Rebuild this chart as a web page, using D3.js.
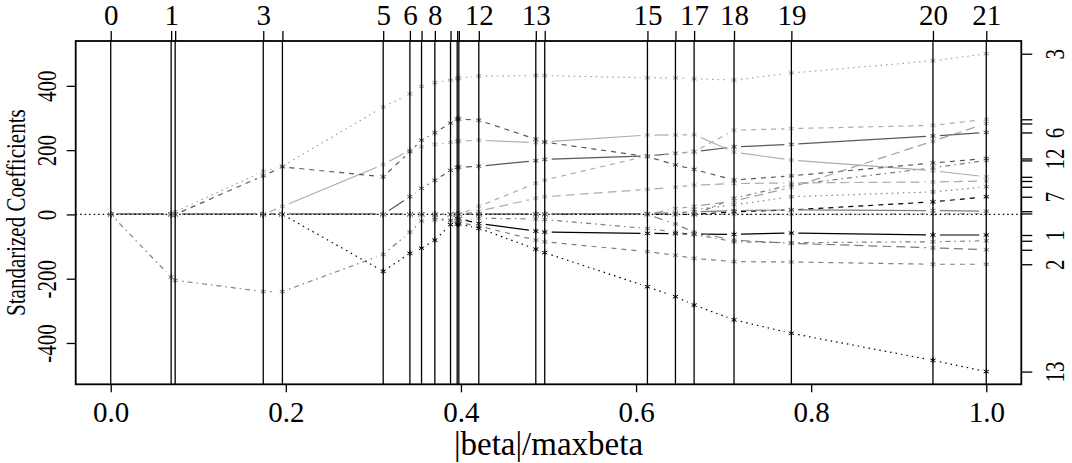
<!DOCTYPE html>
<html>
<head>
<meta charset="utf-8">
<script src="https://cdn.jsdelivr.net/npm/d3@7"></script>
<style>
  body { margin: 0; background: #fff; }
  text { font-family: "Liberation Serif", "DejaVu Serif", serif; }
</style>
</head>
<body>
<div id="chart"></div>
<script>
// step positions, |beta|/maxbeta at each lars step
var stepX = [0, 0.069, 0.0736, 0.1742, 0.1961, 0.3112, 0.3417, 0.3550, 0.3702, 0.3881, 0.3957,
             0.3976, 0.4204, 0.4855, 0.4957, 0.6130, 0.6450, 0.6663, 0.7119, 0.7774, 0.9391, 1.0];
var topLabelSteps = [0, 1, 3, 5, 6, 8, 12, 13, 15, 17, 18, 19, 20, 21];
var xTicks = [0, 0.2, 0.4, 0.6, 0.8, 1.0];
var yTicks = [-400, -200, 0, 200, 400];
var rightLabelVars = [1, 2, 3, 6, 7, 12, 13];

// standardized coefficients, one row per variable, one value per step
var coef1  = [0,0,0,0,0,0,0,0,0,0,-12,-14,-28,-52,-55,-59,-60,-61,-62,-58,-64,-64];
var coef2  = [0,0,0,0,0,0,0,0,-10,-20,-25,-26,-36,-80,-85,-116,-127,-137,-147,-148,-155,-155];
var coef3  = [0,0,8,134,150,334,375,398,410,418,423,424,430,432,432,425,425,422,418,440,478,500];
var coef4  = [0,0,0,0,0,0,0,0,0,0,0,0,0,0,0,0,0,0,50,92,145,168];
var coef5  = [0,0,0,0,0,0,0,0,0,0,0,0,10,50,55,78,85,91,96,98,101,104];
var coef6  = [0,0,0,0,0,0,55,81,106,137,146,147,150,167,171,182,190,195,210,218,244,255];
var coef7  = [0,0,0,0,0,0,0,0,0,0,0,0,0,0,0,0,0,0,8,14,39,55];
var coef8  = [0,0,0,0,0,0,0,0,0,0,0,0,0,0,0,0,0,15,30,55,70,86];
var coef9  = [0,0,0,0,0,0,0,0,0,0,0,0,0,0,0,0,0,0,0,0,2,3];
var coef10 = [0,0,0,0,0,0,0,0,0,0,0,0,0,0,0,0,-30,-55,-80,-90,-104,-110];
var coef11 = [0,0,0,0,25,155,200,210,218,224,227,228,231,223,226,247,247,248,194,169,136,117];
var coef12 = [0,0,0,120,148,117,195,231,254,284,297,297,293,234,225,180,154,140,107,120,160,174];
var coef13 = [0,0,0,0,0,-177,-121,-105,-80,-32,-30,-30,-43,-108,-119,-225,-256,-282,-328,-370,-454,-489];
var coef14 = [0,-195,-205,-240,-240,-125,-55,-21,-17,-18,-20,-20,-12,-14,-16,-44,-55,-62,-85,-88,-85,-82];
var coef15 = [0,0,0,0,0,0,0,0,0,0,0,0,0,0,0,0,18,25,42,84,228,283];
var coef16 = [0,0,0,0,0,0,0,0,0,0,0,0,1,2,2,3,5,8,12,14,12,10];
var coef17 = [0,0,0,0,0,0,0,0,0,0,0,0,25,97,107,182,190,195,262,267,277,296];

var coefs = [coef1, coef2, coef3, coef4, coef5, coef6, coef7, coef8, coef9, coef10,
             coef11, coef12, coef13, coef14, coef15, coef16, coef17];

// matplot colours 1:6 shown in grey, line types 1:5
var greys = ["#000000", "#808080", "#a0a0a0", "#7d7d7d", "#ababab", "#595959"];
var dashes = [null, "5,5", "1.5,4", "1.5,4,5,4", "9,5"];

var W = 1072, H = 463;
var box = {left: 75.7, right: 1021.3, top: 41, bottom: 384.3};
var gap = 7;

var svg = d3.select("#chart").append("svg")
	.attr("width", W).attr("height", H)
	.style("background", "#fff");

var x = d3.scaleLinear().domain([-0.04, 1.04]).range([box.left, box.right]);
var ext = d3.extent(d3.merge(coefs));
var pad = (ext[1] - ext[0]) * 0.04;
var y = d3.scaleLinear().domain([ext[0] - pad, ext[1] + pad]).range([box.bottom, box.top]);

// paths, drawn like type="b": broken around each point
var vars = coefs.map(function(c, i){ return {id: i + 1, c: c}; });

var paths = svg.append("g").selectAll(".var").data(vars).enter()
	.append("g").attr("class", "var")
	.attr("stroke", function(d){ return greys[(d.id - 1) % 6]; })
	.attr("fill", "none");

paths.each(function(d){
	var g = d3.select(this);
	var segs = [];
	for (var k = 0; k < stepX.length - 1; k++) {
		var x0 = x(stepX[k]), y0 = y(d.c[k]), x1 = x(stepX[k+1]), y1 = y(d.c[k+1]);
		var dx = x1 - x0, dy = y1 - y0, L = Math.sqrt(dx*dx + dy*dy);
		if (L > 2 * gap) {
			segs.push([x0 + dx/L*gap, y0 + dy/L*gap, x1 - dx/L*gap, y1 - dy/L*gap]);
		}
	}
	g.selectAll("line").data(segs).enter().append("line")
		.attr("x1", function(s){ return s[0]; })
		.attr("y1", function(s){ return s[1]; })
		.attr("x2", function(s){ return s[2]; })
		.attr("y2", function(s){ return s[3]; })
		.attr("stroke-width", 1.2)
		.attr("stroke-dasharray", dashes[(d.id - 1) % 5]);

	g.selectAll("path").data(d.c).enter().append("path")
		.attr("d", function(v, k){
			var px = x(stepX[k]), py = y(v), r = 3;
			return "M" + px + "," + (py - r) + "V" + (py + r) +
				"M" + (px - r*0.87) + "," + (py - r*0.5) + "L" + (px + r*0.87) + "," + (py + r*0.5) +
				"M" + (px - r*0.87) + "," + (py + r*0.5) + "L" + (px + r*0.87) + "," + (py - r*0.5);
		})
		.attr("stroke-width", 1);
});

// step lines
svg.append("g").selectAll("line").data(stepX).enter().append("line")
	.attr("x1", function(d){ return x(d); }).attr("x2", function(d){ return x(d); })
	.attr("y1", box.top).attr("y2", box.bottom)
	.attr("stroke", "#000").attr("stroke-width", 1.3);

// zero line
svg.append("line")
	.attr("x1", box.left).attr("x2", box.right)
	.attr("y1", y(0)).attr("y2", y(0))
	.attr("stroke", "#000").attr("stroke-width", 1.2)
	.attr("stroke-dasharray", "1.5,3");

// box
svg.append("rect")
	.attr("x", box.left).attr("y", box.top)
	.attr("width", box.right - box.left).attr("height", box.bottom - box.top)
	.attr("fill", "none").attr("stroke", "#000").attr("stroke-width", 1.8);

// bottom axis
var xAxis = svg.append("g")
	.attr("transform", "translate(0," + box.bottom + ")")
	.call(d3.axisBottom(x).tickValues(xTicks).tickFormat(d3.format(".1f")).tickSize(8).tickPadding(9));
xAxis.select(".domain").remove();
xAxis.selectAll("line").attr("stroke-width", 1.3);
xAxis.selectAll("text").attr("font-size", 29).attr("fill", "#000")
	.attr("font-family", "Liberation Serif").attr("dy", "0.71em");

// top axis with step numbers
var topAxis = svg.append("g")
	.attr("transform", "translate(0," + box.top + ")")
	.call(d3.axisTop(x).tickValues(stepX).tickSize(10).tickPadding(6)
		.tickFormat(function(d, i){ return topLabelSteps.indexOf(i) >= 0 ? i : ""; }));
topAxis.select(".domain").remove();
topAxis.selectAll("line").attr("stroke-width", 1.3);
topAxis.selectAll("text").attr("font-size", 29).attr("fill", "#000")
	.attr("font-family", "Liberation Serif");

// left axis
var yAxis = svg.append("g")
	.attr("transform", "translate(" + box.left + ",0)")
	.call(d3.axisLeft(y).tickValues(yTicks).tickSize(9)
		.tickFormat(function(d){ return String(d); }));
yAxis.select(".domain").remove();
yAxis.selectAll("line").attr("stroke-width", 1.3);
yAxis.selectAll("text")
	.attr("x", 0).attr("dy", 0)
	.attr("text-anchor", "middle")
	.attr("font-size", 21).attr("fill", "#000")
	.attr("font-family", "Liberation Serif")
	.attr("transform", "translate(-20,0) rotate(-90) scale(1,1.3)");

// right axis: final coefficients, labelled with variable number
var finals = coefs.map(function(c){ return c[c.length - 1]; });
var rAxis = svg.append("g")
	.attr("transform", "translate(" + box.right + ",0)")
	.call(d3.axisRight(y).tickValues(finals).tickSize(11)
		.tickFormat(function(d, i){ return rightLabelVars.indexOf(i + 1) >= 0 ? (i + 1) : ""; }));
rAxis.select(".domain").remove();
rAxis.selectAll("line").attr("stroke-width", 1.3);
rAxis.selectAll("text")
	.attr("x", 0).attr("dy", 0)
	.attr("text-anchor", "middle")
	.attr("font-size", 21).attr("fill", "#000")
	.attr("font-family", "Liberation Serif")
	.attr("transform", "translate(43,0) rotate(-90) scale(1,1.3)");

// titles
svg.append("text")
	.attr("transform", "translate(" + ((box.left + box.right) / 2) + ",455)")
	.attr("text-anchor", "middle")
	.attr("font-size", 33)
	.text("|beta|/maxbeta");

svg.append("text")
	.attr("transform", "translate(25," + ((box.top + box.bottom) / 2) + ") rotate(-90) scale(1,1.25)")
	.attr("text-anchor", "middle")
	.attr("font-size", 21)
	.text("Standarized Coefficients");
</script>
</body>
</html>
